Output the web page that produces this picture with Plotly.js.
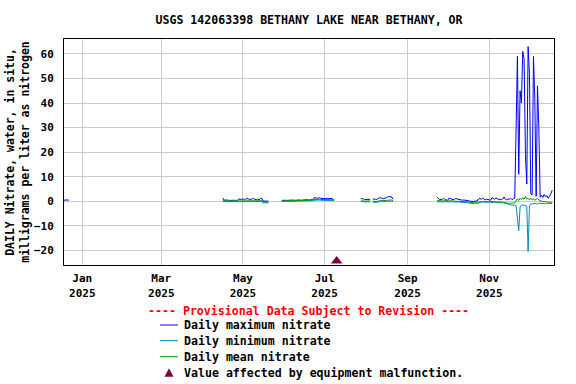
<!DOCTYPE html>
<html><head><meta charset="utf-8">
<script src="https://cdn.plot.ly/plotly-3.0.1.min.js"></script>
<style>html,body{margin:0;padding:0;background:#fff}#chart{width:576px;height:384px}</style>
</head><body><div id="chart"></div>
<script>
const chartTitle = 'USGS 142063398 BETHANY LAKE NEAR BETHANY, OR';
const yTitle = 'DAILY Nitrate, water, in situ,<br>milligrams per liter as nitrogen';
const provisionalText = '---- Provisional Data Subject to Revision ----';

// first day of each continuous run of daily values
const segmentStarts = ['2024-12-18', '2025-04-16', '2025-05-30', '2025-07-28', '2025-08-06', '2025-09-23'];

const dailyMax = [
  [0.4, 0.5, 0.4, 0.5, 0.4],
  [1.3,0.4,0.5,0.3,0.4, 0.3,0.4,0.5,0.3,0.4, 0.3,0.4,0.9,0.8,0.7, 1.0,0.6,0.9,1.1,0.8, 0.9,0.6,1.1,1.0,0.7, 0.6,0.8,0.7,1.0,1.2, 0.1,0.0,0.1,0.0,0.1],
  [0.3,0.4,0.3,0.4,0.3, 0.4,0.3,0.4,0.5,0.4, 0.3,0.4,0.5,0.4,0.5, 0.4,0.5,0.6,0.5,0.6, 0.5,0.6,0.7,0.6,1.4, 1.5,1.3,1.2,1.4,1.2, 1.1,1.3,1.2,1.0,1.2, 1.1,0.9,1.1,1.0,0.4],
  [1.0,1.1,1.0,0.6,0.7,0.9,1.0,0.8],
  [0.9,1.0,0.8,0.6,1.2,1.3,1.4,1.1,1.0,1.3,1.2,1.8,1.9,1.7,1.8,0.8],
  [1.6,0.9,0.6,0.8,0.7,1.2,0.6,0.5,
   0.4,1.3,1.0,0.9,0.6, 0.8,1.1,0.9,0.7,0.5, 0.6,0.4,0.5,0.4,0.3, 0.4,0.0,-0.1,0.1,-0.2, 0.0,0.2,0.1,0.9,1.1, 0.8,1.2,0.9,0.6,0.8, 0.7,
   0.5,0.4,1.4,1.1,0.8, 1.3,0.9,0.7,0.8,0.6, 0.9,1.7,0.8,0.6,0.9, 0.8,1.2,0.6,1.0,1.2, 29,59,11,45,40, 61,58,19,7,63,
   52,3,2.5,59,42, 2,47,30,1.6,2.5, 1.5,2.8,1.8,2.2,1.2, 2.0,3.0,4.5]
];

const dailyMin = [
  [null, null, null, null, null],
  [-0.1,-0.2,-0.2,-0.1,-0.2, -0.2,-0.1,-0.2,-0.2,-0.1, -0.2,-0.2,-0.1,-0.2,-0.2, -0.1,-0.2,-0.1,-0.2,-0.2, -0.1,-0.2,-0.2,-0.1,-0.2, -0.2,-0.1,-0.2,-0.2,-0.1, -0.6,-0.7,-0.6,-0.7,-0.6],
  [-0.1,-0.1,0.0,-0.1,-0.1, 0.0,-0.1,-0.1,0.0,-0.1, 0.0,0.0,0.0,0.1,0.0, 0.1,0.1,0.1,0.1,0.2, 0.1,0.2,0.2,0.2,0.4, 0.5,0.5,0.4,0.5,0.4, 0.4,0.5,0.4,0.4,0.5, 0.4,0.3,0.4,0.3,0.1],
  [-0.2,-0.1,-0.2,-0.3,-0.2,-0.1,-0.2,-0.2],
  [-0.4,-0.5,-0.6,-0.5,-0.3,-0.4,-0.2,-0.1,-0.2,-0.3,-0.1,0.0,0.1,0.0,0.1,-0.2],
  [-0.3,-0.2,-0.3,-0.2,-0.3,-0.2,-0.3,-0.2,
   -0.3,-0.2,-0.3,-0.3,-0.2, -0.3,-0.2,-0.3,-0.3,-0.4, -0.4,-0.5,-0.5,-0.4,-0.5, -0.6,-0.8,-0.9,-0.8,-0.9, -0.8,-0.9,-0.8,-0.8,-0.4, -0.3,-0.4,-0.3,-0.4,-0.3, -0.4,
   -0.4,-0.5,-0.4,-0.3,-0.5, -0.4,-0.5,-0.6,-0.5,-0.6, -0.5,-0.7,-0.8,-1.0,-1.4, -1.5,-1.5,-1.6,-1.5,-1.6, -1.8,-8,-12,-2.2,-1.8, -1.5,-1.6,-1.7,-2.0,-20.5,
   -2.0,-1.2,-1.0,-1.1,-0.9, -1.0,-1.2,-0.8,-0.9,-1.0, -1.1,-0.9,-1.0,-0.8,-0.9, -1.0,-0.9,-1.0]
];

const dailyMean = [
  [null, null, null, null, null],
  [0.2,0.1,0.1,0.2,0.1, 0.1,0.2,0.1,0.1,0.2, 0.1,0.1,0.2,0.1,0.1, 0.2,0.1,0.2,0.1,0.1, 0.2,0.1,0.1,0.2,0.1, 0.1,0.2,0.1,0.1,0.2, -0.3,-0.4,-0.3,-0.4,-0.3],
  [0.1,0.1,0.2,0.1,0.1, 0.2,0.1,0.1,0.2,0.1, 0.2,0.2,0.2,0.3,0.2, 0.3,0.3,0.3,0.3,0.4, 0.3,0.4,0.4,0.4,0.7, 0.8,0.8,0.7,0.8,0.7, 0.7,0.8,0.7,0.7,0.8, 0.7,0.6,0.7,0.6,0.3],
  [0.1,0.2,0.1,0.0,0.1,0.2,0.1,0.1],
  [0.0,-0.1,-0.2,-0.2,0.1,0.0,0.2,0.3,0.2,0.1,0.3,0.4,0.5,0.4,0.5,0.2],
  [0.3,0.2,0.1,0.2,0.1,0.2,0.1,0.0,
   0.0,0.1,0.2,0.1,0.0, 0.1,0.0,-0.1,0.0,-0.1, -0.1,-0.2,-0.1,-0.2,-0.2, -0.3,-0.5,-0.6,-0.5,-0.6, -0.5,-0.4,-0.5,-0.3,-0.2, -0.1,-0.2,-0.1,-0.2,-0.1, -0.2,
   -0.2,-0.1,-0.2,0.0,-0.1, -0.2,-0.3,-0.2,-0.3,-0.2, -0.4,-0.5,-0.6,-0.7,-0.8, -0.9,-0.8,-0.9,-0.8,-0.7, 0.5,1.0,0.3,1.2,0.6, 1.5,0.8,1.9,0.9,1.2,
   0.5,1.3,0.6,1.0,0.4, 0.8,1.1,0.5,0.2,0.0, -0.2,-0.1,-0.3,-0.2,-0.4, -0.5,-0.3,-0.6]
];

const malfunctionDates = ['2025-07-10'];
const malfunctionValues = [-24.4];

const tickDates = ['2025-01-01', '2025-03-01', '2025-05-01', '2025-07-01', '2025-09-01', '2025-11-01'];
const tickLabels = ['Jan<br>2025', 'Mar<br>2025', 'May<br>2025', 'Jul<br>2025', 'Sep<br>2025', 'Nov<br>2025'];
const yTicks = [-20, -10, 0, 10, 20, 30, 40, 50, 60];

const seriesNames = ['Daily maximum nitrate', 'Daily minimum nitrate', 'Daily mean nitrate'];
const seriesColors = ['#0000ff', '#0088cc', '#00a000'];
const malfunctionName = 'Value affected by equipment malfunction.';
const malfunctionColor = '#80003f';

function buildSeries(segments) {
  const x = [], y = [];
  const day = 86400000;
  segmentStarts.forEach((s, i) => {
    const t0 = new Date(s + 'T00:00:00Z').getTime();
    const vals = segments[i];
    vals.forEach((v, j) => {
      x.push(new Date(t0 + j * day).toISOString().slice(0, 10));
      y.push(v);
    });
    x.push(new Date(t0 + vals.length * day).toISOString().slice(0, 10));
    y.push(null);
  });
  return {x, y};
}

const FONT = 'DejaVu Sans Mono';
const traces = [dailyMax, dailyMin, dailyMean].map((seg, k) => {
  const s = buildSeries(seg);
  return {type: 'scatter', mode: 'lines', name: seriesNames[k], x: s.x, y: s.y,
          line: {color: seriesColors[k], width: 1}, connectgaps: false, hoverinfo: 'skip'};
});
traces.push({type: 'scatter', mode: 'markers', name: malfunctionName,
  x: malfunctionDates, y: malfunctionValues,
  marker: {symbol: 'triangle-up', size: 10, color: malfunctionColor}, cliponaxis: false});

// legend drawn below the plot (pixel rows converted to paper units)
const L = 64, W = 490, B = 265, H = 226;
const px = v => (v - L) / W;
const py = v => (B - v) / H;
const rowsY = [325, 340.7, 356.7, 372.7];
const annotations = [{
  text: provisionalText, xref: 'paper', yref: 'paper', x: px(308.5), y: py(311),
  xanchor: 'center', yanchor: 'middle', showarrow: false,
  font: {family: FONT, size: 11.6, color: '#ff0000', weight: 'bold'}
}];
const legendLabels = seriesNames.concat([malfunctionName]);
legendLabels.forEach((t, i) => annotations.push({
  text: t, xref: 'paper', yref: 'paper', x: px(182), y: py(rowsY[i]),
  xanchor: 'left', yanchor: 'middle', showarrow: false,
  font: {family: FONT, size: 11.6, color: '#000', weight: 'bold'}
}));
const shapes = seriesColors.map((c, i) => ({
  type: 'line', xref: 'paper', yref: 'paper', x0: px(160), x1: px(178),
  y0: py(rowsY[i]), y1: py(rowsY[i]), line: {color: c, width: 1}
}));
const ty = rowsY[3];
shapes.push({type: 'path', xref: 'paper', yref: 'paper',
  path: `M ${px(164.5)} ${py(ty + 4)} L ${px(173.5)} ${py(ty + 4)} L ${px(169)} ${py(ty - 4.5)} Z`,
  fillcolor: malfunctionColor, line: {color: malfunctionColor, width: 0}});

const axisFont = {family: FONT, size: 11, color: '#000', weight: 'bold'};
const layout = {
  width: 576, height: 384,
  margin: {l: 64, r: 22, t: 39, b: 119, pad: 0},
  paper_bgcolor: '#fff', plot_bgcolor: '#fff',
  showlegend: false,
  title: {text: chartTitle, x: 0.5, xref: 'paper', xanchor: 'center', y: 1 - 19.5 / 384, yref: 'container', yanchor: 'middle',
          font: {family: FONT, size: 11.6, color: '#000', weight: 'bold'}},
  xaxis: {type: 'date', range: ['2024-12-18 08:00', '2025-12-19 08:00'],
          tickmode: 'array', tickvals: tickDates, ticktext: tickLabels,
          showgrid: true, gridcolor: '#cccccc', gridwidth: 1, zeroline: false,
          showline: true, mirror: true, linecolor: '#000', linewidth: 1,
          ticks: '', tickfont: axisFont, ticklabelstandoff: 3, fixedrange: true},
  yaxis: {range: [-26, 66.1], tickmode: 'array', tickvals: yTicks,
          showgrid: true, gridcolor: '#cccccc', gridwidth: 1, zeroline: false,
          showline: true, mirror: true, linecolor: '#000', linewidth: 1,
          ticks: '', tickfont: axisFont, ticklabelstandoff: 7, fixedrange: true,
          title: {text: yTitle, font: {family: FONT, size: 11.5, color: '#000', weight: 'bold'}, standoff: 1}},
  annotations: annotations,
  shapes: shapes
};

Plotly.newPlot('chart', traces, layout, {displayModeBar: false, staticPlot: true});
</script>
</body></html>
